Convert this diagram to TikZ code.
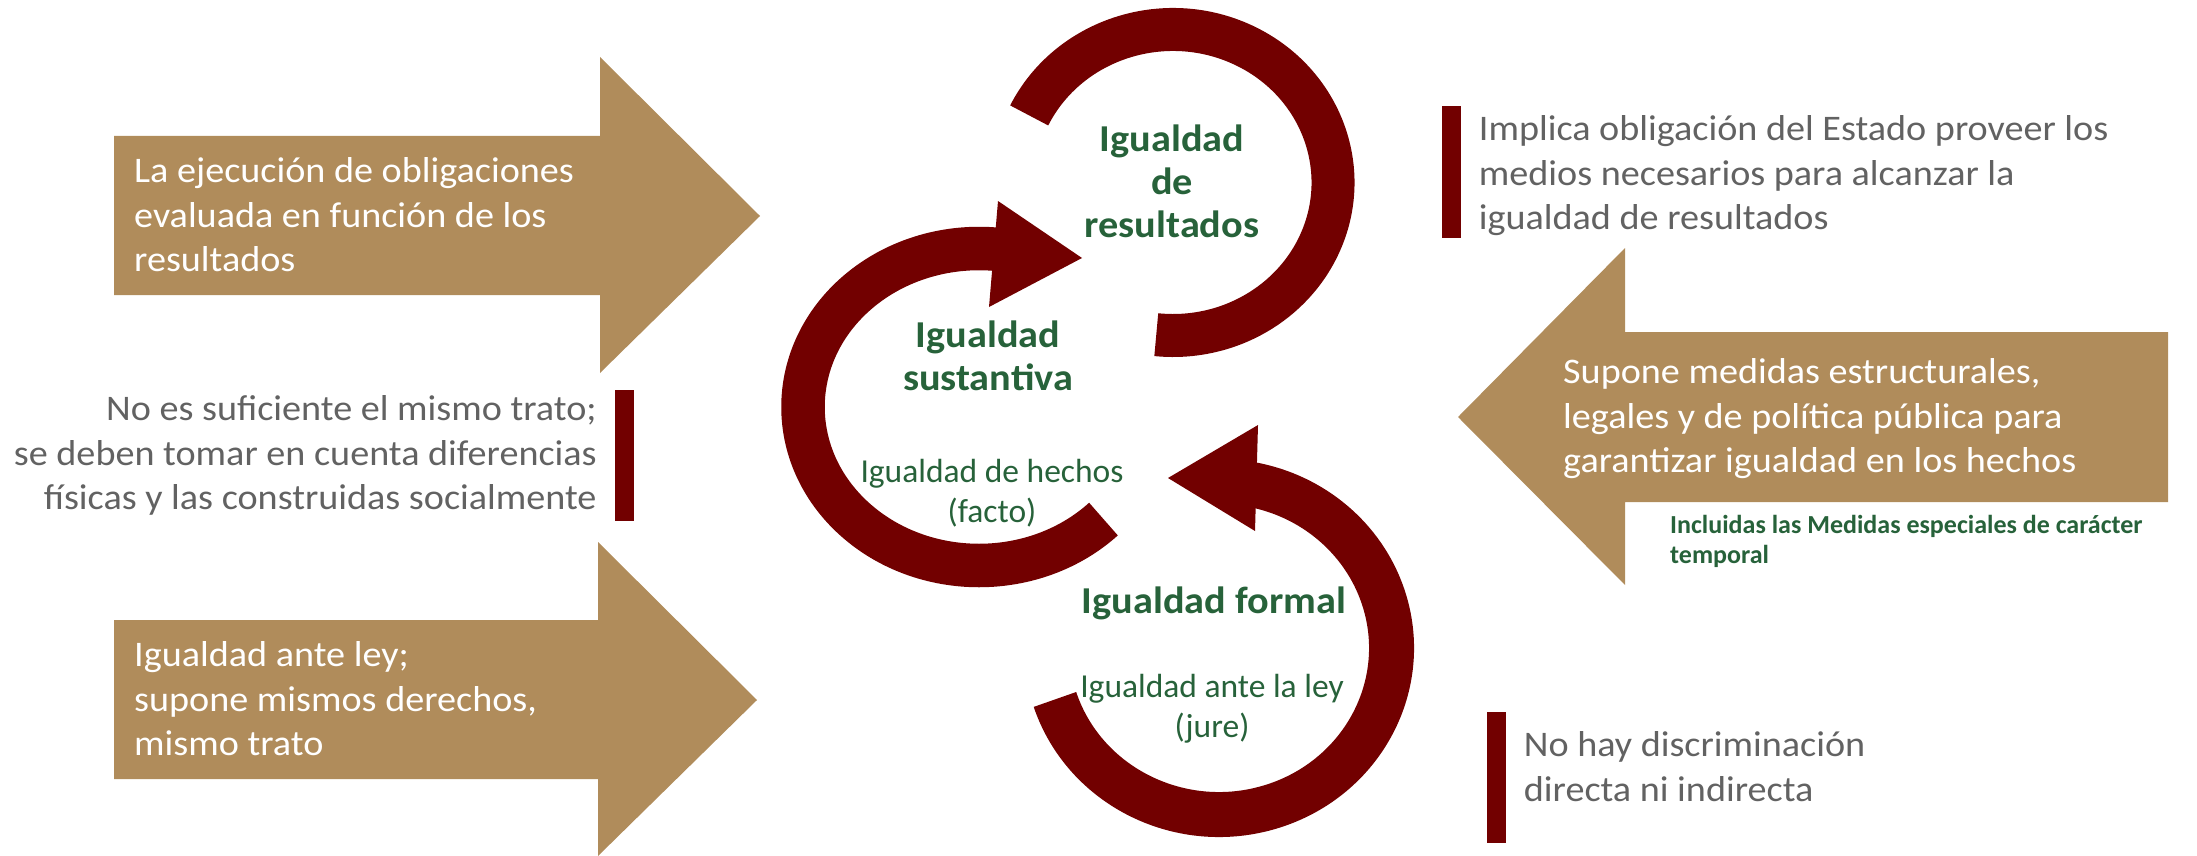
\documentclass[tikz,border=0pt]{standalone}
\usepackage{fontspec}
\setmainfont{Carlito}
\newfontfamily\ancha[FakeStretch=1.06]{Carlito}
\usetikzlibrary{positioning}

\definecolor{oro}{HTML}{B08C5B}
\definecolor{vino}{HTML}{720000}
\definecolor{verde}{HTML}{27623A}
\definecolor{gris}{HTML}{626262}

\begin{document}
\begin{tikzpicture}[x=1pt, y=-1pt,
    texto/.style={inner sep=0pt, font=\ancha\fontsize{36}{44.5}\selectfont},
    blanco/.style={texto, text=white, align=left, anchor=west},
    nota/.style={texto, text=gris},
    barra/.style={fill=vino, inner sep=0pt, minimum width=19pt, minimum height=131pt},
    titulo/.style={inner sep=0pt, text=verde, align=center, font=\ancha\bfseries\fontsize{38}{43}\selectfont},
    subtitulo/.style={inner sep=0pt, text=verde, align=center, font=\fontsize{33.5}{40}\selectfont},
    anillo/.style={draw=vino, line width=43.5pt}]
  \useasboundingbox (0,0) rectangle (2197,856);

  % flechas doradas
  \fill [oro] (114,136) -- (600,136) -- (600,57) -- (760,216) -- (600,373) -- (600,295) -- (114,295) -- cycle;
  \fill [oro] (114,620) -- (598,620) -- (598,542) -- (757,700) -- (598,856) -- (598,779) -- (114,779) -- cycle;
  \fill [oro] (2168,332) -- (1625,332) -- (1625,248) -- (1458,417) -- (1625,585) -- (1625,502) -- (2168,502) -- cycle;

  \node [blanco] (ejecucion) at (134,215) {La ejecución de obligaciones\\evaluada en función de los\\resultados};
  \node [blanco] (ante) at (134,699) {Igualdad ante ley;\\supone mismos derechos,\\mismo trato};
  \node [blanco] (supone) at (1563,419) {Supone medidas estructurales,\\legales y de política pública para\\garantizar igualdad en los hechos};
  \node [inner sep=0pt, anchor=west, align=left, text=verde, font=\bfseries\fontsize{26}{30}\selectfont] (incluidas) at (1670,541) {Incluidas las Medidas especiales de carácter\\temporal};

  % barras y notas
  \node [barra] (b1) at (624.5,455.5) {};
  \node [nota, align=right, left=18pt of b1] (trato) {No es suficiente el mismo trato;\\se deben tomar en cuenta diferencias\\físicas y las construidas socialmente};
  \node [barra] (b2) at (1451,172) {};
  \node [nota, align=left, right=18pt of b2, yshift=-4pt] (implica) {Implica obligación del Estado proveer los\\medios necesarios para alcanzar la\\igualdad de resultados};
  \node [barra] (b3) at (1496,777.5) {};
  \node [nota, align=left, right=18pt of b3, yshift=11pt] (nohay) {No hay discriminación\\directa ni indirecta};

  % anillos
  \coordinate (cr) at (1173,182.5);
  \coordinate (cs) at (979,407);
  \coordinate (cf) at (1219,648);

  \draw [anillo, line width=43pt] ([shift={(-154:160 and 153)}]cr) arc [start angle=-154, end angle=96, x radius=160, y radius=153];
  \draw [anillo] ([shift={(45:176 and 158.5)}]cs) arc [start angle=45, end angle=276, x radius=176, y radius=158.5];
  \fill [vino] ([shift={(19,-206)}]cs) -- ([shift={(103,-149)}]cs) -- ([shift={(10,-100)}]cs) -- cycle;
  \draw [anillo, line width=45pt] ([shift={(162:172.5 and 166.5)}]cf) arc [start angle=162, end angle=-79.5, x radius=172.5, y radius=166.5];
  \fill [vino] ([shift={(39,-223)}]cf) -- ([shift={(-51,-170)}]cf) -- ([shift={(36,-117)}]cf) -- cycle;

  \node [titulo] (resultados) at (1172,181) {Igualdad\\de\\resultados};
  \node [titulo] (sustantiva) at (988,356) {Igualdad\\sustantiva};
  \node [subtitulo] (hechos) at (992,493) {Igualdad de hechos\\(facto)};
  \node [titulo, anchor=base] (formal) at (1214,613) {Igualdad formal};
  \node [subtitulo] (jure) at (1212,709) {Igualdad ante la ley\\(jure)};
\end{tikzpicture}
\end{document}
